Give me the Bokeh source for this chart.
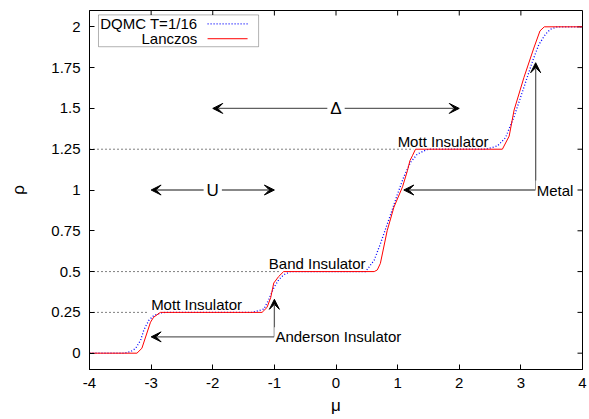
from bokeh.plotting import figure
from bokeh.models import FixedTicker, Arrow, VeeHead, Label, BoxAnnotation, Range1d
from bokeh.embed import file_html
from bokeh.resources import INLINE

# ---------------- data ----------------
lanczos_mu = [-4.0, -3.23, -3.15, -3.01, -2.96, -2.85, -1.20, -1.12, -1.06, -1.01, -0.93, -0.85,
              0.62, 0.67, 0.72, 0.83, 0.94, 1.08, 1.16, 1.20, 1.24, 1.29, 2.70, 2.81, 2.89, 3.05,
              3.21, 3.31, 3.38, 4.0]
lanczos_rho = [0.0, 0.0, 0.03, 0.19, 0.22, 0.25, 0.25, 0.28, 0.34, 0.43, 0.47, 0.50,
               0.50, 0.51, 0.55, 0.75, 0.895, 1.02, 1.12, 1.18, 1.21, 1.25, 1.25, 1.33, 1.49, 1.69,
               1.87, 1.975, 2.0, 2.0]

dqmc_mu = [-4.0, -3.44, -3.33, -3.25, -3.17, -3.12, -3.04, -2.96, -2.85, -2.77, -1.36, -1.17,
           -1.09, -1.01, -0.93, -0.85, -0.74, 0.48, 0.62, 0.72, 0.89, 1.00, 1.10, 1.21, 1.32,
           1.43, 1.50, 2.43, 2.62, 2.75, 2.89, 3.05, 3.19, 3.29, 3.40, 3.48, 3.59, 4.0]
dqmc_rho = [0.0, 0.0, 0.01, 0.03, 0.08, 0.14, 0.20, 0.23, 0.246, 0.25, 0.25, 0.27,
            0.33, 0.40, 0.45, 0.48, 0.50, 0.50, 0.57, 0.67, 0.854, 0.977, 1.08, 1.17, 1.22,
            1.24, 1.25, 1.25, 1.27, 1.32, 1.45, 1.63, 1.79, 1.89, 1.955, 1.985, 2.0, 2.0]

# dotted plateau guide lines: level and right end
plateau_rho = [0.25, 0.5, 1.25]
plateau_end = [-3.06, -0.92, 1.26]

x_ticks = [-4, -3, -2, -1, 0, 1, 2, 3, 4]
x_tick_labels = ["-4", "-3", "-2", "-1", "0", "1", "2", "3", "4"]
y_ticks = [0, 0.25, 0.5, 0.75, 1, 1.25, 1.5, 1.75, 2]
y_tick_labels = ["0", "0.25", "0.5", "0.75", "1", "1.25", "1.5", "1.75", "2"]

# annotation texts (left-aligned) and anchors
note_text = ["Mott Insulator", "Band Insulator", "Mott Insulator"]
note_mu = [-3.0, -1.09, 1.0]
note_rho = [0.30, 0.55, 1.30]

# double-headed arrows with a centred label
dbl_label = ["U", "\u0394"]
dbl_start = [-3.0, -2.0]
dbl_end = [-1.0, 2.0]
dbl_rho = [1.0, 1.5]

# pointer arrows leaving from a label
ptr_label = ["Anderson Insulator", "Metal"]
ptr_mu = [-1.0, 3.24]
ptr_rho = [0.10, 1.0]
ptr_h_end = [-3.0, 1.10]
ptr_v_end = [0.33, 1.78]

key_text = ["DQMC T=1/16", "Lanczos"]

FONT = "Liberation Sans"
GRAY = "#606060"
X0, X1, Y0, Y1 = -4.0, 4.0, -0.1, 2.1
FRAME_W, FRAME_H = 493, 359
TICK_PX = 5

p = figure(width=589, height=419, output_backend="svg", toolbar_location=None,
           x_range=Range1d(X0, X1), y_range=Range1d(Y0, Y1),
           min_border_left=89, min_border_right=7, min_border_top=10, min_border_bottom=50,
           x_axis_label="\u03bc", y_axis_label="\u03c1")
p.grid.visible = False
p.outline_line_color = "black"
p.outline_line_width = 1
p.background_fill_color = "white"
p.border_fill_color = "white"

for ax, ticks, labels in ((p.xaxis[0], x_ticks, x_tick_labels), (p.yaxis[0], y_ticks, y_tick_labels)):
    ax.ticker = FixedTicker(ticks=ticks)
    ax.major_label_overrides = {t: l for t, l in zip(ticks, labels)}
    ax.major_tick_in = TICK_PX
    ax.major_tick_out = 0
    ax.minor_tick_in = 0
    ax.minor_tick_out = 0
    ax.axis_line_color = "black"
    ax.major_tick_line_color = "black"
    ax.major_label_text_font = FONT
    ax.major_label_text_font_size = "15px"
    ax.major_label_text_color = "black"
    ax.axis_label_text_font = FONT
    ax.axis_label_text_font_size = "17px"
    ax.axis_label_text_font_style = "normal"
    ax.axis_label_text_color = "black"
p.xaxis[0].major_label_standoff = 8
p.xaxis[0].axis_label_standoff = 5
p.yaxis[0].major_label_standoff = 9
p.yaxis[0].axis_label_standoff = 20

# mirrored inward ticks on the top and right frame edges
ty = TICK_PX * (Y1 - Y0) / FRAME_H
tx = TICK_PX * (X1 - X0) / FRAME_W
p.segment(x0=x_ticks, y0=[Y1] * len(x_ticks), x1=x_ticks, y1=[Y1 - ty] * len(x_ticks),
          line_color="black", line_width=1)
p.segment(x0=[X1] * len(y_ticks), y0=y_ticks, x1=[X1 - tx] * len(y_ticks), y1=y_ticks,
          line_color="black", line_width=1)

# dotted plateau guide lines
p.segment(x0=[X0] * len(plateau_rho), y0=plateau_rho, x1=plateau_end, y1=plateau_rho,
          line_color="black", line_width=1, line_dash="1 3")

# data curves
p.line(dqmc_mu, dqmc_rho, line_color="#0000ff", line_width=1.3, line_dash="1 2")
p.line(lanczos_mu, lanczos_rho, line_color="#ff0000", line_width=1)

# arrows
def head():
    return VeeHead(size=10, fill_color="black", line_color="black", line_width=1)

for s, e, r in zip(dbl_start, dbl_end, dbl_rho):
    p.add_layout(Arrow(x_start=s, y_start=r, x_end=e, y_end=r, start=head(), end=head(),
                       line_color=GRAY, line_width=1.3))
for m, r, he, ve in zip(ptr_mu, ptr_rho, ptr_h_end, ptr_v_end):
    p.add_layout(Arrow(x_start=m, y_start=r, x_end=he, y_end=r, end=head(),
                       line_color=GRAY, line_width=1.3))
    p.add_layout(Arrow(x_start=m, y_start=r, x_end=m, y_end=ve, end=head(),
                       line_color=GRAY, line_width=1.3))

# labels
for t, s, e, r in zip(dbl_label, dbl_start, dbl_end, dbl_rho):
    p.add_layout(Label(x=(s + e) / 2, y=r, text=t, text_align="center", text_baseline="middle",
                       text_font=FONT, text_font_size="17px", text_color="black",
                       background_fill_color="white", padding=3))
for t, m, r in zip(ptr_label, ptr_mu, ptr_rho):
    p.add_layout(Label(x=m, y=r, text=t, text_align="left", text_baseline="middle",
                       text_font=FONT, text_font_size="15px", text_color="black",
                       background_fill_color="white", padding=1))
for t, m, r in zip(note_text, note_mu, note_rho):
    p.add_layout(Label(x=m, y=r, text=t, text_align="left", text_baseline="middle",
                       text_font=FONT, text_font_size="15px", text_color="black"))

# gnuplot-style key (text then sample) in the top-left corner
p.add_layout(BoxAnnotation(left=-3.854, right=-1.256, bottom=1.878, top=2.073,
                           fill_color="white", fill_alpha=1, line_color="black", line_width=1))
key_rho = [2.018, 1.927]
key_color = ["#0000ff", "#ff0000"]
key_dash = ["1 2", "solid"]
for t, r, c, d in zip(key_text, key_rho, key_color, key_dash):
    p.add_layout(Label(x=-2.25, y=r, text=t, text_align="right", text_baseline="middle",
                       text_font=FONT, text_font_size="15px", text_color="black"))
    p.add_layout(Arrow(x_start=-2.084, y_start=r, x_end=-1.435, y_end=r, end=None,
                       line_color=c, line_width=1.3 if d != "solid" else 1, line_dash=d))

open("out.html", "w").write(file_html(p, INLINE))
